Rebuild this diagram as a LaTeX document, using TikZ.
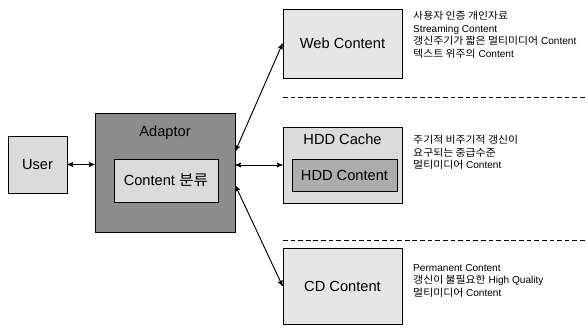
\documentclass[tikz,border=0pt]{standalone}
\usepackage{fontspec}
\setmainfont{Liberation Sans}
\newfontfamily\kr[FakeStretch=1.08]{Noto Sans CJK KR}
\usepackage{xcolor}
\usetikzlibrary{arrows,calc}

\definecolor{lightbox}{gray}{0.86}
\definecolor{midbox}{gray}{0.68}
\definecolor{darkbox}{gray}{0.55}

\tikzset{
  box/.style={draw,thick,fill=lightbox,font=\fontsize{12.5}{14}\selectfont},
  note/.style={anchor=north west,align=left,inner sep=0pt,font=\fontsize{8.6}{10.8}\selectfont},
  link/.style={<->,>=stealth',thick},
  sep/.style={thick,dash pattern=on 4pt off 2.5pt}
}

\begin{document}
\begin{tikzpicture}[x=0.03cm,y=-0.03cm]
\useasboundingbox (0,0) rectangle (587,328);

\node[box, minimum width=1.77cm, minimum height=1.71cm] (user) at (37.5,164.5) {User};
\node[box, fill=darkbox, minimum width=4.2cm, minimum height=3.57cm] (adaptor) at (165,172.5) {};
\node[font=\fontsize{12.5}{14}\selectfont] (adaptorlbl) at (165,133) {Adaptor};
\node[box, minimum width=3.12cm, minimum height=1.29cm] (classify) at (166,180.5) {Content {\kr 분류}};

\node[box, fill=lightbox!70!white, minimum width=3.57cm, minimum height=2.07cm] (web) at (342.5,43.5) {Web Content};
\node[box, minimum width=3.57cm, minimum height=2.28cm] (cache) at (342.5,165) {};
\node[font=\fontsize{12.5}{14}\selectfont] (cachelbl) at (342.5,139) {HDD Cache};
\node[box, fill=midbox, minimum width=3.15cm, minimum height=0.96cm] (hdd) at (344.5,175) {HDD Content};
\node[box, fill=lightbox!70!white, minimum width=3.57cm, minimum height=2.28cm] (cd) at (342.5,286) {CD Content};

\coordinate (d1a) at (283,97);  \coordinate (d1b) at (587,97);
\coordinate (d2a) at (283,240); \coordinate (d2b) at (587,240);
\draw[sep] (d1a) -- (d1b);
\draw[sep] (d2a) -- (d2b);

\node[note] (webtxt) at (413,11) {{\kr 사용자 인증 개인자료}\\Streaming Content\\{\kr 갱신주기가 짧은 멀티미디어} Content\\{\kr 텍스트 위주의} Content};
\node[note] (hddtxt) at (413,135) {{\kr 주기적 비주기적 갱신이}\\{\kr 요구되는 중급수준}\\{\kr 멀티미디어} Content};
\node[note] (cdtxt) at (413,264) {Permanent Content\\{\kr 갱신이 불필요한} High Quality\\{\kr 멀티미디어} Content};

\draw[link] (user.east) -- (user.east -| adaptor.west);
\draw[link] (cache.west -| adaptor.east) -- (cache.west);
\draw[link] ($(adaptor.north east)!0.32!(adaptor.south east)$) -- (web.west);
\draw[link] ($(adaptor.north east)!0.61!(adaptor.south east)$) -- (cd.west);
\end{tikzpicture}
\end{document}
